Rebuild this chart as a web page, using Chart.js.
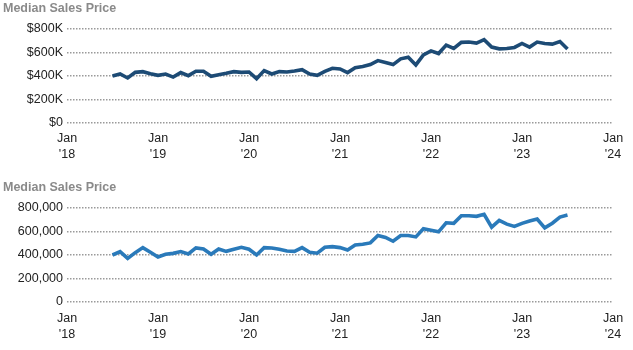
<!DOCTYPE html>
<html>
<head>
<meta charset="utf-8">
<script src="https://cdn.jsdelivr.net/npm/chart.js@4/dist/chart.umd.min.js"></script>
<style>
  html, body { margin: 0; padding: 0; background: #fff; }
  .panel { position: relative; width: 633px; height: 175px; }
</style>
</head>
<body>
<div class="panel"><canvas id="priceTop" width="633" height="175"></canvas></div>
<div class="panel"><canvas id="priceBottom" width="633" height="175"></canvas></div>
<script>
// monthly median sales price, Jul 2018 .. Jul 2023
const firstMonth = { year: 2018, month: 7 };
const axisStartYear = 2018;
const yearTicks = ['Jan', 'Jan', 'Jan', 'Jan', 'Jan', 'Jan', 'Jan'];
const yearLabels = ["'18", "'19", "'20", "'21", "'22", "'23", "'24"];

const medianPriceA = [
  400000, 417000, 383000, 431000, 437000, 420000, 406000, 417000, 391000, 429000,
  403000, 440000, 440000, 397000, 411000, 423000, 437000, 431000, 434000, 377000,
  446000, 417000, 437000, 434000, 443000, 454000, 417000, 406000, 440000, 466000,
  460000, 429000, 471000, 480000, 497000, 531000, 514000, 497000, 546000, 560000,
  494000, 580000, 614000, 591000, 663000, 634000, 686000, 689000, 680000, 709000,
  646000, 631000, 634000, 643000, 677000, 646000, 689000, 677000, 671000, 694000,
  629000
];

const medianPriceB = [
  400000, 429000, 371000, 420000, 463000, 423000, 383000, 406000, 414000, 429000,
  409000, 460000, 451000, 406000, 451000, 431000, 449000, 466000, 449000, 400000,
  463000, 460000, 449000, 434000, 431000, 463000, 423000, 415000, 466000, 471000,
  463000, 443000, 486000, 491000, 503000, 566000, 549000, 517000, 566000, 566000,
  554000, 623000, 611000, 597000, 674000, 669000, 734000, 734000, 729000, 746000,
  637000, 694000, 663000, 643000, 669000, 689000, 706000, 631000, 671000, 723000,
  740000
];

const titleText = 'Median Sales Price';
const FONT = '"Liberation Sans", Arial, sans-serif';

// x position = months since Jan of the first axis year
function toPoints(values) {
  const offset = (firstMonth.year - axisStartYear) * 12 + firstMonth.month - 1;
  return values.map((v, i) => ({ x: offset + i, y: v }));
}

const titlePlugin = {
  id: 'panelTitle',
  afterDraw(chart, args, opts) {
    const ctx = chart.ctx;
    ctx.save();
    ctx.font = 'bold 12.5px ' + FONT;
    ctx.fillStyle = '#8a8a8a';
    ctx.textBaseline = 'middle';
    ctx.textAlign = 'left';
    ctx.fillText(opts.text, 3, opts.y);
    ctx.restore();
  }
};

function makeChart(id, values, color, cfg) {
  return new Chart(document.getElementById(id), {
    type: 'line',
    data: {
      datasets: [{
        data: toPoints(values),
        borderColor: color,
        borderWidth: 3.6,
        pointRadius: 0,
        tension: 0,
        fill: false
      }]
    },
    plugins: [titlePlugin],
    options: {
      responsive: false,
      animation: false,
      layout: { padding: { top: cfg.top, right: 20, left: 0, bottom: 0 } },
      plugins: {
        legend: { display: false },
        tooltip: { enabled: false },
        panelTitle: { text: titleText, y: cfg.titleY }
      },
      scales: {
        x: {
          type: 'linear',
          min: 0,
          max: 72,
          grid: { display: false, drawTicks: false },
          border: { display: false },
          afterFit(scale) { scale.height = cfg.xHeight; },
          afterBuildTicks(scale) {
            scale.ticks = yearTicks.map((t, i) => ({ value: i * 12 }));
          },
          ticks: {
            autoSkip: false,
            maxRotation: 0,
            padding: cfg.xPad,
            color: '#222',
            font: { family: FONT, size: 12.5, lineHeight: 1.3 },
            callback: (v) => [yearTicks[v / 12], yearLabels[v / 12]]
          }
        },
        y: {
          min: 0,
          max: 800000,
          grid: { color: '#9a9a9a', lineWidth: 1.5, drawTicks: false },
          border: { display: false, dash: [1.5, 1.5] },
          afterFit(scale) { scale.width = 67; },
          ticks: {
            stepSize: 200000,
            padding: 4,
            color: '#222',
            font: { family: FONT, size: 12.5 },
            callback: cfg.yFormat
          }
        }
      }
    }
  });
}

makeChart('priceTop', medianPriceA, '#1d4b75', {
  top: 29, xHeight: 52, xPad: 7, titleY: 8.5,
  yFormat: (v) => v === 0 ? '$0' : '$' + (v / 1000) + 'K'
});

makeChart('priceBottom', medianPriceB, '#2a7aba', {
  top: 33, xHeight: 48, xPad: 8, titleY: 12.5,
  yFormat: (v) => v.toLocaleString('en-US')
});
</script>
</body>
</html>
